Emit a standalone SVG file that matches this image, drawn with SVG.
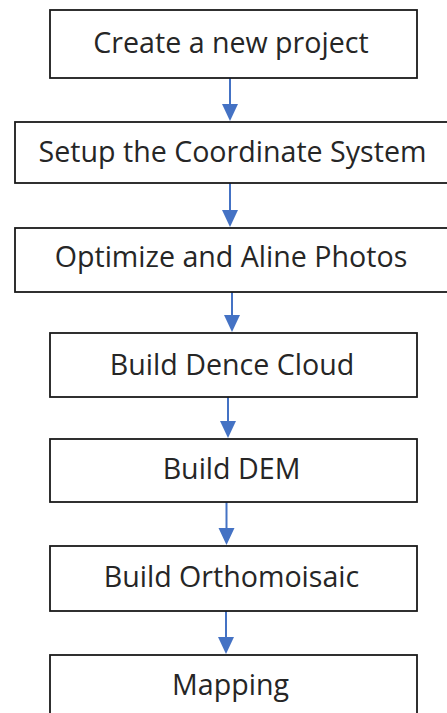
<svg xmlns="http://www.w3.org/2000/svg" width="447" height="713" viewBox="0 0 447 713">
<defs>
<style>
.box{fill:#fff;stroke:#1a1a1a;stroke-width:1.8}
.lbl{font-family:"Open Sans","Noto Sans",sans-serif;font-size:28.6px;fill:#262626;text-anchor:middle}
.con{stroke:#4472c4;stroke-width:2;fill:none}
.head{fill:#4472c4}
</style>
</defs>
<rect width="447" height="713" fill="#fff"/>
<g id="connectors">
<line class="con" x1="230" y1="78" x2="230" y2="106"/><polygon class="head" points="222,104 238,104 230,121"/>
<line class="con" x1="230" y1="183" x2="230" y2="212"/><polygon class="head" points="222,210 238,210 230,227"/>
<line class="con" x1="232" y1="292" x2="232" y2="317"/><polygon class="head" points="224,315 240,315 232,332"/>
<line class="con" x1="228" y1="397" x2="228" y2="423"/><polygon class="head" points="220,421 236,421 228,438"/>
<line class="con" x1="226.5" y1="502" x2="226.5" y2="530"/><polygon class="head" points="218.5,528 234.5,528 226.5,545"/>
<line class="con" x1="226" y1="611" x2="226" y2="639"/><polygon class="head" points="218,637 234,637 226,654"/>
</g>
<g id="n1"><rect class="box" x="50" y="10" width="367" height="68"/><text class="lbl" x="231" y="53">Create a new project</text></g>
<g id="n2"><rect class="box" x="15" y="122" width="440" height="61"/><text class="lbl" x="232.5" y="162">Setup the Coordinate System</text></g>
<g id="n3"><rect class="box" x="15" y="228" width="440" height="64"/><text class="lbl" x="231" y="267">Optimize and Aline Photos</text></g>
<g id="n4"><rect class="box" x="50" y="333" width="367" height="64"/><text class="lbl" x="232" y="375">Build Dence Cloud</text></g>
<g id="n5"><rect class="box" x="50" y="439" width="367" height="63"/><text class="lbl" x="231.5" y="479">Build DEM</text></g>
<g id="n6"><rect class="box" x="50" y="546" width="367" height="65"/><text class="lbl" x="231.5" y="587">Build Orthomoisaic</text></g>
<g id="n7"><rect class="box" x="50" y="655" width="367" height="70"/><text class="lbl" x="230.5" y="695">Mapping</text></g>
</svg>
